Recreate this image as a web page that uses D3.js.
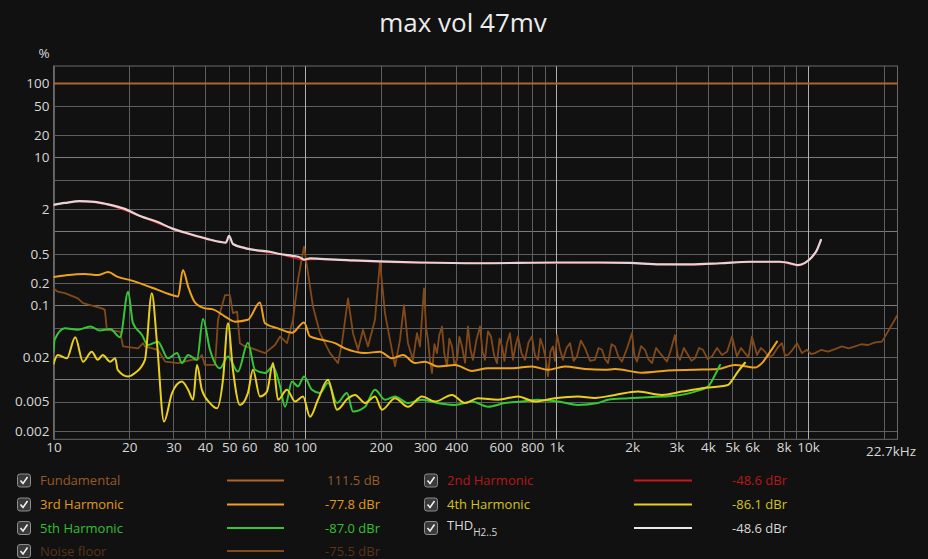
<!DOCTYPE html>
<html><head><meta charset="utf-8">
<script src="https://cdn.jsdelivr.net/npm/d3@7"></script>
<style>
html,body{margin:0;padding:0;background:#111111;}
svg{display:block;font-family:"Open Sans","Noto Sans",sans-serif;}
</style></head><body>
<svg id="chart" width="928" height="559"></svg>
<script>
// ---------- data ----------
const title = "max vol 47mv";
const yUnit = "%";
const xGridValues = [10,20,30,40,50,60,70,80,90,100,200,300,400,500,600,700,800,900,1000,2000,3000,4000,5000,6000,7000,8000,9000,10000,20000];
const xTickValues = [10,20,30,40,50,60,80,100,200,300,400,600,800,1000,2000,3000,4000,5000,6000,8000,10000];
const xTickLabels = ["10","20","30","40","50","60","80","100","200","300","400","600","800","1k","2k","3k","4k","5k","6k","8k","10k"];
const xEndLabel = "22.7kHz";
const yGridValues = [100,50,20,10,5,2,1,0.5,0.2,0.1,0.05,0.02,0.01,0.005,0.002];
const yTickValues = [100,50,20,10,2,0.5,0.2,0.1,0.02,0.005,0.002];
const yTickLabels = ["100","50","20","10","2","0.5","0.2","0.1","0.02","0.005","0.002"];

// series: frequency (Hz) and level (dB relative to 100 %)
const fundFreq = [10, 1000, 22700];
const fundDb   = [0, 0, 0];

const thdFreq = [10,11.1,12.7,14.6,16.3,19.2,22.1,25.8,29.9,34.9,40.8,45.9,48.5,49.9,51.7,57.7,64.5,72.6,79.6,88.8,94.6,99.1,104.7,114.7,137.8,151,198.7,286.6,496.5,1000,1489,1960,2579,3395,4469,5883,7740,8718,9125,9730,10373,10858,11264];
const thdDb   = [-32.8,-32.3,-31.8,-32.0,-32.6,-33.9,-35.8,-37.4,-39.3,-40.7,-42.0,-42.8,-43.0,-41.2,-43.4,-44.5,-45.1,-45.5,-46.1,-46.6,-46.9,-47.6,-47.3,-47.4,-47.7,-47.8,-48.1,-48.4,-48.6,-48.4,-48.4,-48.5,-48.9,-48.9,-48.6,-48.2,-48.2,-48.8,-49.1,-48.5,-46.9,-45.0,-42.3];

const h2Freq = [10,12.7,16.3,22.1,29.9,40.8,48.5,49.9,51.7,64.5,79.6,99.1,114.7,151,286.6,1000,1960,3395,5883,7740,9125,9730,10373,10858,11264];
const h2Db   = [-32.9,-31.9,-32.7,-35.9,-39.4,-42.1,-43.1,-41.3,-43.5,-45.2,-46.2,-47.7,-47.5,-47.9,-48.5,-48.5,-48.6,-49.0,-48.3,-48.3,-49.2,-48.6,-47.0,-45.1,-42.4];

const h3Freq = [10,11.1,13.3,15.0,16.5,17.9,20.5,23.1,26.0,29.6,31.3,32.7,34.3,36.5,40.0,42.7,48.1,52.7,59.3,66.2,69.3,78.1,88.8,99.1,104.7,116.8,131.6,144.2,158.1,173.3,198.7,221.8,245.3,273.8,300,338,394.9,461.4,534.3,665.6,799,925,1081,1298,1559,1709,2188,2775,3554,4388,5127,6156,6562,6934,7530];
const h3Db   = [-52.3,-51.9,-51.5,-51.8,-51.0,-52.2,-53.3,-54.5,-55.8,-57.2,-57.6,-50.4,-54.9,-59.2,-60.8,-61.0,-63.0,-64.4,-63.9,-59.2,-64.8,-66.2,-67.4,-64.6,-68.4,-69.3,-70.2,-71.6,-72.5,-72.9,-72.5,-74.3,-73.4,-75.6,-75.2,-76.5,-76.1,-77.7,-77.0,-77.0,-76.5,-77.4,-76.5,-77.2,-77.4,-77.2,-78.2,-77.6,-77.4,-77.2,-76.1,-76.8,-75.6,-73.4,-69.8];

const h4Freq = [10,10.4,11.3,12.2,13.1,14.2,15.0,15.7,16.8,17.6,18.0,19.8,21.1,23.1,24.6,25.8,27.5,29.6,32.4,34.3,35.9,37.2,38.9,41.9,44.7,47.2,49.4,51.7,55.1,59.3,62.1,66.2,70.6,74.6,78.1,84.8,91.3,98.2,104.7,112.6,123.5,134.1,148.3,158.1,173.3,189.8,202.4,228,256.7,291.9,328.8,384.2,432.8,487.5,585.5,703.1,821.2,986.3,1217,1422,1709,2109,2627,3155,3789,4808,4988,5268,5617];
const h4Db   = [-75.8,-73.4,-74.3,-68.6,-75.2,-72.5,-74.7,-73.4,-75.2,-74.3,-77.4,-79.2,-78.3,-74.7,-56.7,-70.2,-91.4,-83.7,-80.6,-82.8,-85.5,-76.1,-82.8,-86.4,-87.8,-80.1,-64.8,-77.4,-86.9,-83.7,-77.4,-84.6,-83.3,-75.6,-85.5,-82.8,-86.0,-84.6,-90.1,-85.5,-80.1,-88.2,-85.1,-84.2,-86.4,-84.6,-88.2,-85.1,-87.4,-84.6,-86.0,-84.2,-86.4,-85.1,-85.5,-84.6,-86.0,-85.1,-84.6,-85.0,-84.2,-83.3,-84.2,-83.3,-82.4,-81.5,-80.3,-77.9,-75.5];

const h5Freq = [10,10.1,11.1,12.5,14.0,15.3,16.8,18.4,19.8,20.7,22.5,23.7,26.0,28.5,31.0,32.4,34.3,37.2,39.3,41.9,45.9,49.4,54.1,59.3,63.3,69.3,74.6,79.6,83.3,88.8,93.8,99.1,106.6,114.7,123.5,134.1,146.9,155.2,173.3,189.8,208,228,256.7,291.9,338,394.9,461.4,534.3,624.3,729.3,844,1014,1217,1462,1603,1924,2311,2879,3554,4004,4269,4469];
const h5Db   = [-72.6,-69.3,-66.2,-66.6,-65.7,-66.8,-66.4,-68.6,-56.3,-64.8,-68.0,-70.7,-69.8,-74.3,-72.9,-75.6,-73.4,-74.7,-63.7,-72.0,-77.0,-73.8,-77.9,-70.1,-77.4,-78.3,-76.5,-81.9,-87.4,-80.6,-81.9,-79.2,-82.8,-83.7,-81.0,-86.4,-83.7,-88.7,-87.4,-82.8,-85.5,-84.6,-86.4,-85.5,-86.4,-86.9,-86.0,-87.4,-86.4,-86.0,-85.5,-86.0,-86.9,-86.4,-85.5,-85.1,-84.8,-84.5,-83.3,-81.9,-78.8,-76.1];

const noiseFreq = [10,10.4,11.1,12.5,13.1,15.6,16.0,16.3,18.4,18.9,21.7,22.7,23.1,26.0,27.8,31.3,35.5,37.5,38.9,40.0,43.9,45.1,48.1,50.3,51.7,53.7,55.1,57.7,61.6,69.3,76.0,79.6,84.8,89.6,93.8,99.1,102.8,107.6,114.7,125.8,135.3,140.3,148.3,155.2,162.5,170.1,178,189.8,198.7,208,217.8,228,238.6,247.5,256.7,268.8,278.8,286.6,297.3,303,308.4,314,319.9,327,334.9,342,350.6,358,367,375,384.2,393,402.2,411,421.1,433,444.8,455,465.6,480,496.5,508,519.8,534,549.1,565,580.1,594,607.4,621,635.8,653,671.6,687,703.1,726,749.7,774,799,821,844,863,883.6,904,925.1,946,968.5,986,1005,1033,1061,1096,1132,1170,1206,1250,1298,1360,1422,1470,1517,1560,1603,1655,1709,1765,1822,1910,1996,2040,2090,2170,2249,2320,2398,2490,2579,2660,2750,2850,2960,3030,3099,3210,3334,3440,3554,3690,3824,3990,4153,4350,4552,4770,4988,5222,5420,5617,5800,5989,6270,6500,6745,7000,7258,7560,7882,8100,8326,8680,9044,9465,9900,10300,10662,11300,12010,12800,13652,14500,15379,16300,17326,18500,19695,20618,22700];
const noiseDb   = [-55.4,-56.3,-56.7,-58.1,-59.4,-60.8,-61.2,-66.6,-67.1,-71.1,-71.6,-70.2,-71.1,-72.0,-75.2,-75.6,-74.7,-74.7,-73.4,-76.1,-76.1,-63.9,-57.2,-57.2,-62.1,-61.7,-70.2,-71.1,-71.6,-72.9,-70.7,-68.4,-70.2,-63.9,-53.1,-44.1,-51.3,-60.3,-67.5,-72.9,-75.6,-70.2,-58.1,-67.5,-72.0,-66.6,-71.1,-63.9,-48.2,-62.1,-69.3,-76.5,-69.3,-59.9,-70.2,-74.7,-67.5,-71.1,-55.4,-66.0,-69.3,-75.0,-78.3,-70.5,-72.9,-68.0,-65.7,-73.0,-76.5,-69.0,-71.1,-76.0,-74.7,-68.5,-71.1,-75.5,-65.7,-72.0,-74.7,-69.5,-65.7,-72.5,-74.7,-67.0,-68.4,-73.5,-75.6,-69.0,-71.1,-75.0,-70.2,-67.5,-74.7,-71.0,-68.4,-73.0,-74.7,-70.0,-68.4,-73.5,-74.7,-69.0,-71.1,-74.0,-79.2,-72.5,-71.1,-75.0,-68.0,-72.0,-74.7,-71.5,-70.2,-75.0,-73.8,-69.5,-71.5,-75.0,-74.7,-71.5,-72.0,-74.5,-75.6,-70.5,-71.1,-74.0,-75.2,-71.5,-67.5,-73.5,-75.2,-71.0,-72.0,-74.5,-75.6,-71.5,-72.9,-74.0,-75.2,-72.0,-68.0,-73.5,-74.7,-71.5,-73.4,-75.0,-74.3,-71.5,-72.0,-74.5,-73.8,-71.5,-73.4,-72.5,-68.4,-73.8,-71.5,-72.9,-74.0,-68.4,-73.4,-71.5,-72.5,-74.0,-73.4,-71.5,-70.2,-73.5,-73.4,-72.0,-70.2,-72.9,-72.0,-73.2,-72.9,-72.0,-72.5,-71.8,-71.1,-71.6,-71.1,-70.5,-70.7,-70.0,-69.8,-67.5,-62.6];

// legend
const legendNames  = ["Fundamental","3rd Harmonic","5th Harmonic","Noise floor","2nd Harmonic","4th Harmonic","THD"];
const legendValues = ["111.5 dB","-77.8 dBr","-87.0 dBr","-75.5 dBr","-48.6 dBr","-86.1 dBr","-48.6 dBr"];

// ---------- drawing ----------
const svg = d3.select("#chart");
const W = 928, H = 559;
const pL = 53.5, pR = 897.5, pT = 66, pB = 439.3;
const dbToPct = d => 100 * Math.pow(10, d / 20);

const x = d3.scaleLog().domain([10, 22700]).range([pL, pR]);
const y = d3.scaleLog().domain([dbToPct(-96.2), dbToPct(4.73)]).range([pB, pT]);

svg.append("rect").attr("width", W).attr("height", H).attr("fill", "#111111");

svg.append("text").attr("x", 463).attr("y", 32).attr("text-anchor", "middle")
  .attr("fill", "#ececec").attr("font-size", 26).text(title);

// grid
const g = svg.append("g");
g.selectAll(".hg").data(yGridValues).enter().append("line")
  .attr("x1", pL).attr("x2", pR)
  .attr("y1", d => Math.round(y(d)) + 0.5).attr("y2", d => Math.round(y(d)) + 0.5)
  .attr("stroke", d => [100,10,1,0.1,0.01].includes(d) ? "#7c7c7c" : "#5e5e5e").attr("stroke-width", 1);
g.selectAll(".vg").data(xGridValues).enter().append("line")
  .attr("y1", pT).attr("y2", pB)
  .attr("x1", d => Math.round(x(d)) + 0.5).attr("x2", d => Math.round(x(d)) + 0.5)
  .attr("stroke", d => [100,1000,10000].includes(d) ? "#b0b0b0" : "#5e5e5e").attr("stroke-width", 1);
g.append("rect").attr("x", pL).attr("y", pT).attr("width", pR - pL).attr("height", pB - pT)
  .attr("fill", "none").attr("stroke", "#6a6a6a");

// axis labels
const yAxis = d3.axisLeft(y).tickValues(yTickValues).tickSize(0).tickPadding(4)
  .tickFormat((d, i) => yTickLabels[i]);
const ya = svg.append("g").attr("transform", `translate(${pL},0)`).call(yAxis);
ya.select(".domain").remove();
ya.selectAll("text").attr("fill", "#d8d8d8").attr("font-size", 13.5).attr("font-family", '"Open Sans","Noto Sans",sans-serif');

const xAxis = d3.axisBottom(x).tickValues(xTickValues).tickSize(0).tickPadding(3)
  .tickFormat((d, i) => xTickLabels[i]);
const xa = svg.append("g").attr("transform", `translate(0,${pB})`).call(xAxis);
xa.select(".domain").remove();
xa.selectAll("text").attr("fill", "#d8d8d8").attr("font-size", 13.5).attr("font-family", '"Open Sans","Noto Sans",sans-serif');
svg.append("text").attr("x", 916).attr("y", pB + 17).attr("text-anchor", "end")
  .attr("fill", "#d8d8d8").attr("font-size", 13.5).text(xEndLabel);

svg.append("text").attr("x", 44).attr("y", 58).attr("text-anchor", "middle")
  .attr("fill", "#d8d8d8").attr("font-size", 13.5).text(yUnit);

// clip
svg.append("clipPath").attr("id", "clip").append("rect")
  .attr("x", pL).attr("y", pT).attr("width", pR - pL).attr("height", pB - pT);
const plot = svg.append("g").attr("clip-path", "url(#clip)");

function drawSeries(freqs, dbs, color, width, curve) {
  const pts = freqs.map((f, i) => [f, dbs[i]]);
  const line = d3.line().x(d => x(d[0])).y(d => y(dbToPct(d[1]))).curve(curve);
  plot.append("path").attr("d", line(pts)).attr("fill", "none")
    .attr("stroke", color).attr("stroke-width", width)
    .attr("stroke-linejoin", "round").attr("stroke-linecap", "round");
}
const smooth = d3.curveMonotoneX;
drawSeries(fundFreq, fundDb, "#b0652b", 2, d3.curveLinear);
drawSeries(noiseFreq, noiseDb, "#824a1a", 1.8, d3.curveLinear);
drawSeries(h2Freq, h2Db, "#c81818", 1.5, smooth);
drawSeries(h3Freq, h3Db, "#eea21c", 2, smooth);
drawSeries(h5Freq, h5Db, "#36c636", 2, smooth);
drawSeries(h4Freq, h4Db, "#e8d01c", 2, smooth);
drawSeries(thdFreq, thdDb, "#e8d4d8", 2.2, smooth);

// legend
const legendColors = ["#b0652b","#eea21c","#36c636","#824a1a","#c81818","#e8d01c","#e8e8e8"];
const legendText   = ["#9a5a2a","#e09a1c","#34c034","#5a3418","#b81818","#d4c41c","#d8d8d8"];
const legendRowY = [480.5, 504.5, 528, 551];
legendNames.forEach((name, i) => {
  const col = i < 4 ? 0 : 1;
  const row = i < 4 ? i : i - 4;
  const cy = legendRowY[row];
  const bx = col === 0 ? 17 : 424;
  const lg = svg.append("g");
  lg.append("rect").attr("x", bx + 0.5).attr("y", cy - 6.5).attr("width", 13).attr("height", 13).attr("rx", 2.5)
    .attr("fill", "#3a3a3a").attr("stroke", "#8c8c8c").attr("stroke-width", 1);
  lg.append("path").attr("d", `M${bx+3.5},${cy} L${bx+6},${cy+3} L${bx+10.5},${cy-3.5}`)
    .attr("fill", "none").attr("stroke", "#f0f0f0").attr("stroke-width", 1.6);
  const tx = col === 0 ? 40 : 447;
  const t = lg.append("text").attr("x", tx).attr("y", cy + 4.5).attr("fill", legendText[i]).attr("font-size", 13);
  if (name === "THD") {
    t.attr("y", cy + 2).text("THD");
    t.append("tspan").attr("font-size", 10).attr("dy", 6).text("H2..5");
  } else {
    t.text(name);
  }
  const lx1 = col === 0 ? 227 : 634, lx2 = col === 0 ? 284 : 692;
  lg.append("line").attr("x1", lx1).attr("x2", lx2).attr("y1", cy).attr("y2", cy)
    .attr("stroke", legendColors[i]).attr("stroke-width", 2);
  const vx = col === 0 ? 380 : 787;
  lg.append("text").attr("x", vx).attr("y", cy + 4.5).attr("text-anchor", "end")
    .attr("fill", legendText[i]).attr("font-size", 13).text(legendValues[i]);
});
</script>
</body></html>
